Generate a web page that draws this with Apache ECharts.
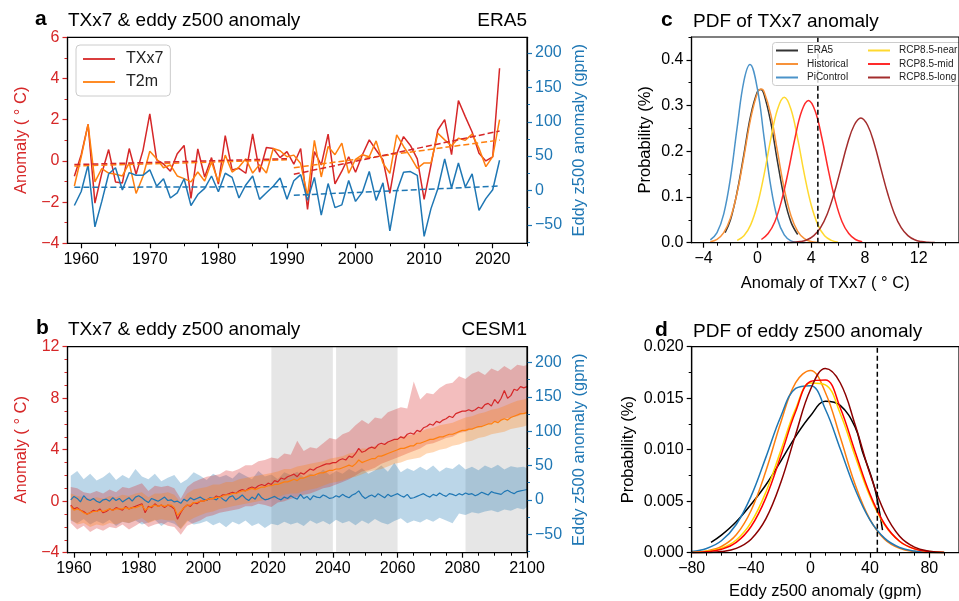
<!DOCTYPE html>
<html>
<head>
<meta charset="utf-8">
<script src="https://cdn.jsdelivr.net/npm/echarts@6/dist/echarts.min.js"></script>
<style>
  html, body { margin: 0; padding: 0; background: #fff; }
  #chart { width: 959px; height: 601px; }
</style>
</head>
<body>
<div id="chart"></div>
<script>
const FONT = '"Liberation Sans", Arial, Helvetica, sans-serif'

// ---- panel a : ERA5 (1959-2021)
const eraYears = []
for (let y = 1959; y <= 2021; y++) eraYears.push(y)
const eraTxx7 = [
  -0.75, 0.3, 1.77, -2.05, -0.6, 0.55, -1.02, -1.07, 0.6, -0.65,
  0.5, 2.28, 0.05, -0.15, -0.5, 0.35, 0.75, -1.82, 0.58, -0.78,
  0.16, -1.13, 1.23, -0.44, -0.36, -0.6, 1.31, -0.55, 0.65, 0.6,
  0.16, 0.45, -0.16, 0.6, -2.35, 0.45, -0.2, 1.3, -1.12, -0.5,
  0.2, -0.55, 0.3, 1.02, 0.53, 0.05, -1.57, 0.34, 1.18, 0.75,
  0.1, -1.87, -0.2, 1.5, 2.0, 0.3, 2.93, 2.15, 1.4, 0.37,
  0.0, 0.2, 4.5
]
const eraT2m = [
  -1.22, 0.2, 1.77, -1.02, -0.37, -0.59, -0.65, -0.73, -0.1, -1.58,
  -0.76, 0.47, 0.1, -0.33, -0.2, -0.73, -0.86, -1.02, -0.54, -0.98,
  -0.05, -1.02, 0.28, -0.54, -0.3, 0.1, -0.59, -0.18, -0.59, 0.6,
  0.49, 0.2, 0.28, -0.13, -1.7, 1.0, -0.78, 0.7, 0.3, 0.86,
  -0.6, 0.08, 0.3, 0.2, 0.97, -0.11, -0.6, 1.26, 0.7, 0.21,
  -0.36, -0.1, -0.1, 1.34, 1.02, 0.73, 1.1, 1.0, 1.3, 0.61,
  -0.28, 0.21, 2.0
]
const eraZ500 = [
  -22, -1.5, 37, -53, -16, 24, 33, 0.5, 26, 22,
  22, 30, 6, 17, -11, -3.5, 17, -22, -6, 3,
  21, -2, 25, 19, -11, 8, 21, -13, -3.5, 6,
  18, -13, 14, 23, -14.5, 19, -36, 10, -25, -21,
  14.5, -16, -2.5, 27.5, -14.5, 11, -59, -1.5, 26.5, 27.5,
  22, -67, -26.5, 2.5, 46, 3.5, 40, 5, 24, -29,
  -12, 1, 44
]
// linear trends, 1959-1990 and 1991-2021
const trendYears = [[1959, 1990], [1991, 2021]]
const trendTxx7 = [[-0.18, 0.11], [-0.65, 1.45]]
const trendT2m = [[-0.25, 0.05], [-0.33, 1.01]]
const trendZ500 = [[4.5, 5.5], [-7, 6.4]]

// ---- panel b : CESM1 ensemble (1959-2100)
const cesmYears = []
for (let y = 1959; y <= 2100; y++) cesmYears.push(y)
const cesmTxx7 = [
  -0.3, -0.6, -0.5, -0.7, -0.8, -1.0, -0.9, -0.7, -0.8, -0.6, -0.9,
  -0.8, -0.6, -0.7, -0.5, -0.6, -0.7, -0.4, -0.6, -0.5, -0.4,
  -0.3, -0.2, -0.9, -0.4, -0.5, -0.2, -0.4, -0.3, -0.5, -0.3,
  -0.4, -0.6, -1.4, -0.9, -0.5, -0.3, -0.4, -0.1, -0.2, 0.0,
  0.0, 0.1, 0.2, 0.2, 0.4, 0.3, 0.5, 0.5, 0.6, 0.7,
  0.6, 0.8, 0.9, 0.8, 1.0, 1.1, 1.0, 1.2, 1.3, 1.2,
  1.4, 1.3, 1.6, 1.5, 1.8, 1.7, 1.9, 2.0, 2.1, 1.9,
  2.2, 2.1, 2.3, 2.5, 2.4, 2.6, 2.7, 2.8, 2.9, 2.9,
  3.0, 3.0, 3.2, 3.3, 3.2, 3.5, 3.4, 3.7, 4.1, 3.8,
  3.9, 4.1, 4.2, 4.1, 4.4, 4.5, 4.4, 4.6, 4.7, 4.8,
  4.8, 5.0, 4.9, 5.2, 5.3, 5.2, 5.5, 5.4, 5.7, 5.8,
  6.0, 5.9, 6.2, 6.1, 6.3, 6.4, 6.6, 6.5, 6.8, 6.9,
  7.0, 7.0, 7.1, 7.0, 7.1, 7.3, 7.2, 7.5, 7.6, 7.4,
  7.9, 7.6, 8.0, 8.6, 8.0, 8.2, 8.7, 8.6, 8.9, 8.8,
  8.9
]
const cesmT2m = [
  -0.4, -0.7, -0.6, -0.7, -0.9, -1.0, -0.9, -0.8, -0.8, -0.7, -0.8,
  -0.7, -0.6, -0.7, -0.6, -0.6, -0.6, -0.5, -0.6, -0.5, -0.5,
  -0.4, -0.3, -0.7, -0.5, -0.4, -0.3, -0.4, -0.3, -0.4, -0.3,
  -0.3, -0.5, -1.1, -0.8, -0.5, -0.3, -0.3, -0.1, -0.1, 0.0,
  0.0, 0.1, 0.2, 0.2, 0.3, 0.3, 0.4, 0.5, 0.5, 0.6,
  0.6, 0.7, 0.8, 0.8, 0.9, 1.0, 0.9, 1.0, 1.1, 1.1,
  1.2, 1.2, 1.3, 1.3, 1.4, 1.5, 1.5, 1.6, 1.7, 1.6,
  1.8, 1.8, 1.9, 2.0, 2.0, 2.1, 2.2, 2.2, 2.3, 2.4,
  2.4, 2.5, 2.5, 2.6, 2.7, 2.8, 2.7, 2.9, 3.2, 3.0,
  3.1, 3.2, 3.3, 3.3, 3.5, 3.5, 3.6, 3.7, 3.8, 3.9,
  4.0, 4.1, 4.1, 4.2, 4.3, 4.3, 4.5, 4.5, 4.6, 4.7,
  4.8, 4.8, 4.9, 5.0, 5.0, 5.1, 5.2, 5.2, 5.3, 5.4,
  5.5, 5.5, 5.6, 5.6, 5.7, 5.8, 5.8, 5.9, 6.0, 6.0,
  6.2, 6.1, 6.3, 6.4, 6.3, 6.5, 6.6, 6.7, 6.8, 6.8,
  6.9
]
const cesmZ500 = [
  0, 5, 2, -3, 6, 1, -1, 2, -2, -4, 0,
  1, -2, 3, -1, 2, -3, 0, 3, -2, 4,
  6, 3, -1, -4, 2, 0, -2, 1, 4, -1,
  0, -3, -2, -5, 1, -2, 3, 0, 2, 4,
  1, -1, 3, 2, 0, 5, 1, -2, 4, 6,
  0, 3, 7, 2, -1, 4, 1, 9, 3, 0,
  1, 3, 5, 2, 0, 4, 2, 6, 3, 1,
  8, 2, 5, 0, 6, 4, 3, 7, 5, 2,
  3, 6, 4, 8, 5, 3, 7, 9, 13, 6,
  2, 5, 7, 4, 9, 6, 3, 8, 5, 7,
  9, 6, 4, 8, 2, 3, 5, 7, 9, 6,
  4, 8, 6, 10, 7, 5, 9, 8, 6, 9,
  7, 10, 8, 9, 6, 8, 11, 9, 7, 12,
  10, 9, 8, 12, 14, 11, 9, 12, 13, 14,
  15
]
// ensemble spread, every second year
const bandYears = []
for (let y = 1959; y <= 2099; y += 2) bandYears.push(y)
bandYears.push(2100)
const txx7Hi = [
  1.1, 1.0, 0.7, 0.6, 0.8, 0.6, 0.9, 0.7, 1.1, 1.0,
  1.2, 1.4, 0.8, 1.2, 1.1, 1.2, 1.0, 0.2, 1.1, 1.5,
  1.7, 1.9, 2.0, 2.1, 2.4, 2.3, 2.5, 2.8, 2.8, 3.1,
  3.2, 3.4, 3.3, 3.7, 3.6, 4.7, 3.9, 4.2, 4.1, 4.5,
  4.9, 4.8, 5.2, 5.4, 5.9, 6.3, 6.0, 6.5, 6.4, 6.9,
  7.1, 7.3, 7.2, 9.3, 7.9, 8.4, 8.3, 8.8, 9.1, 9.2,
  9.7, 9.5, 9.9, 10.1, 9.8, 10.3, 10.1, 10.5, 10.2, 10.6,
  10.5, 10.6
]
const txx7Lo = [
  -1.7, -2.2, -1.9, -2.4, -2.1, -2.3, -2.0, -2.1, -1.8, -2.2,
  -1.9, -1.6, -2.0, -1.8, -1.7, -1.9, -2.0, -2.6, -1.9, -1.7,
  -1.5, -1.2, -1.1, -0.9, -0.8, -0.7, -0.6, -0.4, -0.4, -0.2,
  -0.3, -0.45, -0.1, 0.0, 0.2, 0.3, 0.5, 0.6, 0.8, 1.0,
  1.1, 1.3, 1.5, 1.7, 2.0, 2.3, 2.4, 2.6, 2.9, 3.1,
  3.3, 3.5, 3.7, 3.9, 4.1, 4.4, 4.5, 4.7, 4.9, 5.0,
  5.3, 5.4, 5.6, 5.7, 5.9, 6.1, 6.2, 6.4, 6.5, 6.6,
  6.8, 6.8
]
const t2mHi = [
  0.6, 0.4, 0.3, 0.2, 0.3, 0.2, 0.4, 0.3, 0.5, 0.4,
  0.6, 0.7, 0.3, 0.6, 0.6, 0.7, 0.5, -0.1, 0.6, 0.9,
  1.0, 1.1, 1.3, 1.3, 1.5, 1.5, 1.7, 1.8, 1.9, 2.0,
  2.1, 2.2, 2.3, 2.5, 2.5, 2.7, 2.8, 2.9, 3.0, 3.1,
  3.3, 3.4, 3.5, 3.7, 3.8, 4.1, 4.1, 4.3, 4.4, 4.6,
  4.8, 5.0, 5.1, 5.2, 5.4, 5.6, 5.7, 5.9, 6.0, 6.1,
  6.3, 6.5, 6.6, 6.8, 6.9, 7.1, 7.2, 7.4, 7.6, 7.8,
  7.9, 8.0
]
const t2mLo = [
  -1.4, -1.8, -1.7, -2.0, -1.8, -1.9, -1.7, -1.8, -1.6, -1.7,
  -1.5, -1.3, -1.7, -1.5, -1.4, -1.5, -1.5, -2.2, -1.6, -1.3,
  -1.1, -0.9, -0.8, -0.6, -0.5, -0.4, -0.3, -0.2, -0.1, 0.0,
  0.1, 0.2, 0.3, 0.5, 0.6, 0.6, 0.8, 0.9, 1.0, 1.2,
  1.4, 1.5, 1.6, 1.8, 1.9, 2.1, 2.3, 2.4, 2.5, 2.7,
  2.9, 3.0, 3.2, 3.3, 3.4, 3.7, 3.8, 4.0, 4.1, 4.3,
  4.4, 4.6, 4.7, 4.9, 5.0, 5.2, 5.3, 5.4, 5.6, 5.7,
  5.8, 5.9
]
const z500Hi = [
  35, 42, 30, 38, 28, 33, 40, 29, 36, 31,
  45, 34, 30, 38, 27, 32, 36, 24, 30, 40,
  35, 29, 38, 33, 36, 31, 40, 35, 30, 42,
  34, 37, 30, 40, 36, 41, 33, 38, 35, 44,
  36, 42, 38, 45, 40, 46, 38, 43, 50, 41,
  54, 40, 46, 42, 48, 43, 50, 41, 47, 45,
  52, 44, 48, 43, 50, 46, 51, 44, 49, 47,
  48, 46
]
const z500Lo = [
  -30, -34, -28, -36, -31, -35, -29, -38, -32, -34,
  -30, -36, -33, -29, -38, -32, -35, -42, -30, -36,
  -34, -31, -37, -33, -40, -32, -36, -30, -38, -34,
  -41, -35, -37, -32, -36, -33, -38, -30, -35, -31,
  -36, -29, -34, -31, -37, -30, -35, -28, -33, -36,
  -31, -27, -34, -30, -33, -28, -32, -26, -30, -34,
  -20, -22, -18, -20, -17, -15, -18, -14, -16, -12,
  -14, -10
]
const periodStart = [2021, 2041, 2081]
const periodEnd = [2040, 2060, 2100]

// ---- panel c : PDF of TXx7 anomaly
const pdfTxNames = ['ERA5', 'Historical', 'PiControl', 'RCP8.5-near', 'RCP8.5-mid', 'RCP8.5-long']
const pdfTxX = [
  [-2.4, -2.0, -1.5, -1.0, -0.5, 0.0, 0.25, 0.5, 1.0, 1.5, 2.0, 2.5, 3.0],
  [-3.5, -3.0, -2.5, -2.0, -1.5, -1.0, -0.5, 0.0, 0.28, 0.5, 1.0, 1.5, 2.0, 2.5, 3.0, 3.5, 4.0, 4.5, 5.0],
  [-3.5, -3.0, -2.5, -2.0, -1.5, -1.0, -0.55, 0.0, 0.5, 1.0, 1.5, 2.0, 2.5, 3.0, 3.5],
  [-1.5, -1.0, -0.5, 0.0, 0.5, 1.0, 1.5, 2.0, 2.5, 3.0, 3.5, 4.0, 4.5, 5.0, 5.5, 6.0],
  [0.3, 0.8, 1.3, 1.8, 2.3, 2.8, 3.3, 3.8, 4.3, 4.8, 5.3, 5.8, 6.3, 6.8, 7.3, 7.8],
  [2.2, 2.7, 3.2, 3.7, 4.2, 4.7, 5.2, 5.7, 6.2, 6.7, 7.2, 7.7, 8.2, 8.7, 9.2, 9.7, 10.2, 10.7, 11.2, 11.7, 12.2, 12.7, 13.2]
]
const pdfTxY = [
  [0.022, 0.05, 0.112, 0.194, 0.278, 0.330, 0.335, 0.324, 0.263, 0.177, 0.098, 0.045, 0.018],
  [0.002, 0.0075, 0.022, 0.054, 0.110, 0.188, 0.271, 0.327, 0.336, 0.330, 0.280, 0.199, 0.118, 0.059, 0.025, 0.009, 0.0025, 0.0006, 0.0001],
  [0.006, 0.022, 0.063, 0.142, 0.253, 0.354, 0.390, 0.337, 0.230, 0.123, 0.052, 0.017, 0.004, 0.001, 0.0],
  [0.005, 0.015, 0.039, 0.083, 0.149, 0.227, 0.292, 0.318, 0.292, 0.227, 0.149, 0.083, 0.039, 0.015, 0.005, 0.001],
  [0.007, 0.020, 0.046, 0.092, 0.156, 0.229, 0.288, 0.311, 0.288, 0.229, 0.156, 0.092, 0.046, 0.020, 0.007, 0.002],
  [0.0002, 0.0008, 0.0024, 0.0064, 0.0155, 0.033, 0.063, 0.107, 0.161, 0.216, 0.257, 0.273, 0.257, 0.216, 0.161, 0.107, 0.063, 0.033, 0.0155, 0.0064, 0.0024, 0.0008, 0.0002]
]
const txx7Era2021 = 4.5

// ---- panel d : PDF of eddy z500 anomaly
const pdfZX = [
  [-67, -60, -50, -40, -30, -20, -10, 0, 10, 20, 30, 35, 40, 44, 48.5],
  [-80, -70, -60, -50, -40, -30, -20, -10, 0, 10, 20, 30, 40, 50, 60, 70, 80, 90]
]
const pdfZY = [
  [0.0010, 0.0017, 0.0030, 0.0047, 0.0066, 0.0089, 0.0113, 0.0133, 0.0147, 0.0143, 0.0122, 0.0098, 0.0078, 0.0058, 0.0022],
  [0.00004, 0.00017, 0.00060, 0.00174, 0.00410, 0.00795, 0.01265, 0.01651, 0.01769, 0.01556, 0.01123, 0.00665, 0.00324, 0.00129, 0.00042, 0.00011, 0.00002, 0.0],
  [0.00012, 0.00041, 0.00116, 0.00274, 0.00549, 0.00928, 0.01323, 0.01595, 0.01622, 0.01393, 0.01009, 0.00618, 0.00319, 0.00139, 0.00051, 0.00016, 0.00004, 0.00001],
  [0.00003, 0.00013, 0.00043, 0.00123, 0.00294, 0.00590, 0.00991, 0.01396, 0.01648, 0.01630, 0.01352, 0.00940, 0.00548, 0.00267, 0.00109, 0.00038, 0.00011, 0.00002],
  [0.00002, 0.00009, 0.00033, 0.00100, 0.00254, 0.00535, 0.00939, 0.01370, 0.01662, 0.01677, 0.01408, 0.00983, 0.00571, 0.00276, 0.00111, 0.00037, 0.00010, 0.00002],
  [0.0, 0.00002, 0.00011, 0.00042, 0.00131, 0.00330, 0.00681, 0.01149, 0.01585, 0.01788, 0.01650, 0.01245, 0.00768, 0.00388, 0.00160, 0.00054, 0.00015, 0.00003]
]
const z500Era2021 = 45

// ---- colours
const RED = '#d62728', ORANGE = '#ff7f0e', BLUE = '#1f77b4'
const pdfTxColors = ['#333333', '#f7923a', '#4b93c9', '#ffd92f', '#ff2a2a', '#a32d2d']
const pdfZColors = ['#000000', '#ff7f0e', '#1f77b4', '#ffd700', '#ff0000', '#8b0000']

const zip = (xs, ys) => xs.map((x, i) => [x, ys[i]])
const minus = v => String(v).replace('-', '\u2212')

// axes: labelled major ticks + a tick-only axis for the minor ones
function majorAxis(gridIndex, position, min, max, vals, color, fmt, extra) {
  return Object.assign({
    type: 'value', gridIndex, position, min, max, z: 5,
    axisLine: {show: true, onZero: false, lineStyle: {color: '#000', width: 1.2}},
    axisTick: {show: true, length: 5, customValues: vals, lineStyle: {color, width: 1.2}},
    axisLabel: {show: true, customValues: vals, color, fontSize: 16, fontFamily: FONT, margin: 8, formatter: fmt || minus},
    splitLine: {show: false}
  }, extra || {})
}
function minorAxis(gridIndex, position, min, max, vals, color) {
  return {
    type: 'value', gridIndex, position, min, max, z: 5,
    axisLine: {show: false, onZero: false},
    axisLabel: {show: false}, splitLine: {show: false},
    axisTick: {show: true, length: 3, customValues: vals, lineStyle: {color, width: 1}}
  }
}
const axisName = (name, gap, color, rotate) => ({
  name, nameLocation: 'middle', nameGap: gap, nameRotate: rotate,
  nameTextStyle: {fontSize: 16.5, color, fontFamily: FONT}
})

const Z_MIN = -77, Z_MAX = 223
const zMajor = [-50, 0, 50, 100, 150, 200]
const zMinor = [-75, -25, 25, 75, 125, 175]

const xAxis = [
  majorAxis(0, 'bottom', 1958, 2025, [1960, 1970, 1980, 1990, 2000, 2010, 2020], '#000'),
  minorAxis(0, 'bottom', 1958, 2025, [1965, 1975, 1985, 1995, 2005, 2015, 2025], '#000'),
  majorAxis(1, 'bottom', 1958, 2100, [1960, 1980, 2000, 2020, 2040, 2060, 2080, 2100], '#000'),
  minorAxis(1, 'bottom', 1958, 2100, [1965, 1970, 1975, 1985, 1990, 1995, 2005, 2010, 2015, 2025, 2030, 2035,
    2045, 2050, 2055, 2065, 2070, 2075, 2085, 2090, 2095], '#000'),
  majorAxis(2, 'bottom', -4.9, 15, [-4, 0, 4, 8, 12], '#000', null, axisName('Anomaly of TXx7 ( \u00b0 C)', 32, '#000', 0)),
  minorAxis(2, 'bottom', -4.9, 15, [-3, -2, -1, 1, 2, 3, 5, 6, 7, 9, 10, 11, 13, 14], '#000'),
  majorAxis(3, 'bottom', -80, 100, [-80, -40, 0, 40, 80], '#000', null, axisName('Eddy z500 anomaly (gpm)', 30, '#000', 0)),
  minorAxis(3, 'bottom', -80, 100, [-70, -60, -50, -30, -20, -10, 10, 20, 30, 50, 60, 70, 90], '#000')
]
const yAxis = [
  majorAxis(0, 'left', -4, 6, [-4, -2, 0, 2, 4, 6], RED, null, axisName('Anomaly ( \u00b0 C)', 38, RED, 90)),
  minorAxis(0, 'left', -4, 6, [-3, -1, 1, 3, 5], RED),
  majorAxis(0, 'right', Z_MIN, Z_MAX, zMajor, BLUE, null, axisName('Eddy z500 anomaly (gpm)', 44, BLUE, 90)),
  minorAxis(0, 'right', Z_MIN, Z_MAX, zMinor, BLUE),
  majorAxis(1, 'left', -4, 12, [-4, 0, 4, 8, 12], RED, null, axisName('Anomaly ( \u00b0 C)', 38, RED, 90)),
  minorAxis(1, 'left', -4, 12, [-3, -2, -1, 1, 2, 3, 5, 6, 7, 9, 10, 11], RED),
  majorAxis(1, 'right', Z_MIN, Z_MAX, zMajor, BLUE, null, axisName('Eddy z500 anomaly (gpm)', 44, BLUE, 90)),
  minorAxis(1, 'right', Z_MIN, Z_MAX, zMinor, BLUE),
  majorAxis(2, 'left', 0, 0.45, [0, 0.1, 0.2, 0.3, 0.4], '#000', v => v.toFixed(1), axisName('Probability (%)', 38, '#000', 90)),
  minorAxis(2, 'left', 0, 0.45, [0.05, 0.15, 0.25, 0.35, 0.45], '#000'),
  majorAxis(3, 'left', 0, 0.02, [0, 0.005, 0.01, 0.015, 0.02], '#000', v => v.toFixed(3), axisName('Probability (%)', 55, '#000', 90)),
  minorAxis(3, 'left', 0, 0.02, [0.0025, 0.0075, 0.0125, 0.0175], '#000')
]

function line(name, data, color, xi, yi, extra) {
  return Object.assign({
    type: 'line', name, data, xAxisIndex: xi, yAxisIndex: yi,
    symbol: 'none', silent: true, z: 3,
    lineStyle: {color, width: 1.5}, itemStyle: {color}
  }, extra || {})
}
function trend(name, vals, color, yi) {
  return trendYears.map((yrs, k) => line(name + ' trend ' + k, zip(yrs, vals[k]), color, 0, yi,
    {z: 4, lineStyle: {color, width: 1.5, type: [6, 3]}}))
}
function band(name, lo, hi, color, yi) {
  return {
    type: 'custom', name, xAxisIndex: 2, yAxisIndex: yi, silent: true, z: 2,
    data: bandYears.map((y, i) => [y, lo[i], hi[i]]),
    renderItem: (params, api) => {
      if (params.dataIndex !== 0) return null
      const pts = bandYears.map((y, i) => api.coord([y, hi[i]]))
      for (let i = bandYears.length - 1; i >= 0; i--) pts.push(api.coord([bandYears[i], lo[i]]))
      return {type: 'polygon', shape: {points: pts}, style: {fill: color}}
    }
  }
}
const thin = c => ({lineStyle: {color: c, width: 1.2}})

const series = [
  // a
  line('TXx7', zip(eraYears, eraTxx7), RED, 0, 0),
  line('T2m', zip(eraYears, eraT2m), ORANGE, 0, 0),
  line('eddy z500', zip(eraYears, eraZ500), BLUE, 0, 2),
  ...trend('T2m', trendT2m, ORANGE, 0),
  ...trend('TXx7', trendTxx7, RED, 0),
  ...trend('z500', trendZ500, BLUE, 2),
  // b
  {
    type: 'custom', name: 'periods', xAxisIndex: 2, yAxisIndex: 4, silent: true, z: 1,
    data: periodStart.map((s, i) => [s, 0]),
    renderItem: (params, api) => {
      const i = params.dataIndex
      const p0 = api.coord([periodStart[i], 12])
      const p1 = api.coord([periodEnd[i], -4])
      return {type: 'rect', shape: {x: p0[0], y: p0[1], width: p1[0] - p0[0], height: p1[1] - p0[1]},
        style: {fill: '#e6e6e6'}}
    }
  },
  band('z500 spread', z500Lo, z500Hi, 'rgba(31,119,180,0.3)', 6),
  band('TXx7 spread', txx7Lo, txx7Hi, 'rgba(214,39,40,0.3)', 4),
  band('T2m spread', t2mLo, t2mHi, 'rgba(255,127,14,0.3)', 4),
  line('CESM1 z500', zip(cesmYears, cesmZ500), BLUE, 2, 6, thin(BLUE)),
  line('CESM1 TXx7', zip(cesmYears, cesmTxx7), RED, 2, 4, thin(RED)),
  line('CESM1 T2m', zip(cesmYears, cesmT2m), ORANGE, 2, 4, thin(ORANGE)),
  // c
  ...pdfTxNames.map((n, k) => line(n, zip(pdfTxX[k], pdfTxY[k]), pdfTxColors[k], 4, 8, {smooth: 0.4})),
  line('TXx7 2021', [[txx7Era2021, 0], [txx7Era2021, 0.45]], '#000', 4, 8, {lineStyle: {color: '#000', width: 1.5, type: [5, 3]}}),
  // d
  ...pdfTxNames.map((n, k) => line(n + ' z500', zip(k === 0 ? pdfZX[0] : pdfZX[1], pdfZY[k]), pdfZColors[k], 6, 10, {smooth: 0.4})),
  line('z500 2021', [[z500Era2021, 0], [z500Era2021, 0.02]], '#000', 6, 10, {lineStyle: {color: '#000', width: 1.5, type: [5, 3]}})
]

const titleStyle = {fontSize: 19, fontWeight: 'normal', color: '#000', fontFamily: FONT}
const letterStyle = {fontSize: 21, fontWeight: 'bold', color: '#000', fontFamily: FONT}
const title = [
  {text: 'a', left: 35, top: 9, padding: 0, textStyle: letterStyle},
  {text: 'TXx7 & eddy z500 anomaly', left: 68, top: 11, padding: 0, textStyle: titleStyle},
  {text: 'ERA5', right: 432, top: 11, padding: 0, textStyle: titleStyle},
  {text: 'b', left: 36, top: 318, padding: 0, textStyle: letterStyle},
  {text: 'TXx7 & eddy z500 anomaly', left: 68, top: 320, padding: 0, textStyle: titleStyle},
  {text: 'CESM1', right: 432, top: 320, padding: 0, textStyle: titleStyle},
  {text: 'c', left: 661, top: 10, padding: 0, textStyle: letterStyle},
  {text: 'PDF of TXx7 anomaly', left: 693, top: 12, padding: 0, textStyle: titleStyle},
  {text: 'd', left: 655, top: 320, padding: 0, textStyle: letterStyle},
  {text: 'PDF of eddy z500 anomaly', left: 693, top: 322, padding: 0, textStyle: titleStyle}
]

const legend = [
  {
    data: ['TXx7', 'T2m'], orient: 'vertical', left: 76, top: 45, icon: 'rect',
    padding: [6, 7, 6, 7], itemGap: 7, itemWidth: 32, itemHeight: 1.8,
    backgroundColor: '#fff', borderColor: '#cccccc', borderWidth: 1, borderRadius: 4,
    textStyle: {fontSize: 16, color: '#222', fontFamily: FONT, padding: [0, 0, 0, 6]}
  },
  {
    data: pdfTxNames.slice(0, 3), orient: 'vertical', left: 776, top: 45.5, z: 6, icon: 'rect',
    padding: 0, itemGap: 3.5, itemWidth: 22, itemHeight: 2,
    textStyle: {fontSize: 10, color: '#222', fontFamily: FONT, padding: [0, 0, 0, 4]}
  },
  {
    data: pdfTxNames.slice(3), orient: 'vertical', left: 868, top: 45.5, z: 6, icon: 'rect',
    padding: 0, itemGap: 3.5, itemWidth: 22, itemHeight: 2,
    textStyle: {fontSize: 10, color: '#222', fontFamily: FONT, padding: [0, 0, 0, 4]}
  }
]

const gridBox = {show: true, borderColor: '#000', borderWidth: 1.2, backgroundColor: 'transparent', z: 10}
const option = {
  animation: false,
  backgroundColor: '#fff',
  textStyle: {fontFamily: FONT},
  title,
  legend,
  graphic: [{
    type: 'rect', left: 772, top: 42, z: 5, silent: true,
    shape: {width: 200, height: 43, r: 3},
    style: {fill: 'rgba(255,255,255,0.8)', stroke: '#cccccc', lineWidth: 1}
  }],
  grid: [
    Object.assign({left: 67.5, top: 37.3, width: 459.5, height: 206}, gridBox),
    Object.assign({left: 67.5, top: 346.7, width: 459.5, height: 206}, gridBox),
    Object.assign({left: 691.5, top: 37, width: 276.5, height: 205.7}, gridBox),
    Object.assign({left: 691.7, top: 346.7, width: 273.8, height: 206}, gridBox)
  ],
  xAxis,
  yAxis,
  series
}

const chart = echarts.init(document.getElementById('chart'), null, {renderer: 'canvas'})
chart.setOption(option)
</script>
</body>
</html>
